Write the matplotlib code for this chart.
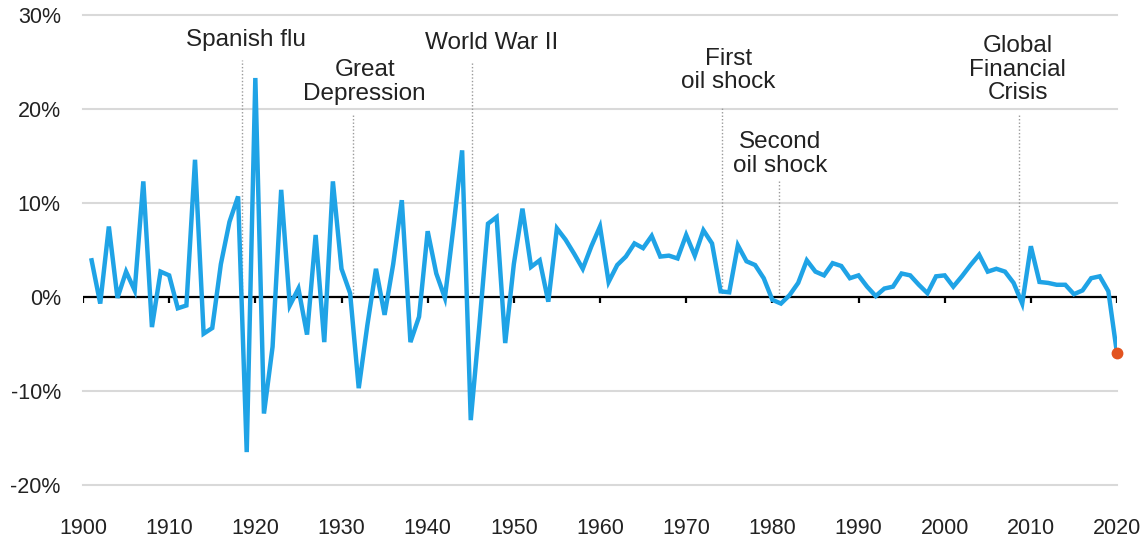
import matplotlib
matplotlib.use("Agg")
import matplotlib.pyplot as plt

plt.rcParams['font.family'] = ['Liberation Sans', 'DejaVu Sans']

# annual growth, %
years = list(range(1901, 2021))
growth = [
    3.9, -0.7, 7.5, -0.1, 2.7, 0.7, 12.3, -3.2, 2.7, 2.3,        # 1901-1910
    -1.2, -0.9, 14.6, -3.9, -3.3, 3.5, 8.0, 10.7, -16.5, 23.3,   # 1911-1920
    -12.4, -5.3, 11.4, -0.9, 0.9, -4.0, 6.6, -4.8, 12.3, 3.0,    # 1921-1930
    0.4, -9.7, -3.0, 3.0, -1.9, 3.5, 10.3, -4.8, -2.1, 7.0,      # 1931-1940
    2.5, -0.1, 7.5, 15.6, -13.1, -3.0, 7.8, 8.5, -4.9, 3.5,      # 1941-1950
    9.4, 3.2, 3.9, -0.5, 7.3, 6.1, 4.6, 3.0, 5.4, 7.5,           # 1951-1960
    1.6, 3.4, 4.3, 5.7, 5.2, 6.5, 4.3, 4.4, 4.1, 6.6,            # 1961-1970
    4.4, 7.1, 5.7, 0.6, 0.5, 5.5, 3.8, 3.4, 2.0, -0.3,           # 1971-1980
    -0.7, 0.2, 1.5, 3.9, 2.7, 2.3, 3.6, 3.3, 2.0, 2.3,           # 1981-1990
    1.1, 0.1, 0.9, 1.1, 2.5, 2.3, 1.3, 0.4, 2.2, 2.3,            # 1991-2000
    1.1, 2.2, 3.4, 4.5, 2.7, 3.0, 2.7, 1.5, -0.7, 5.4,           # 2001-2010
    1.6, 1.5, 1.3, 1.3, 0.3, 0.7, 2.0, 2.2, 0.6, -6.0,           # 2011-2020
]

x_ticks = list(range(1900, 2021, 10))
y_ticks = [-20, -10, 0, 10, 20, 30]
y_tick_labels = ["-20%", "-10%", "0%", "10%", "20%", "30%"]

events = ["Spanish flu", "Great\nDepression", "World War II",
          "First\noil shock", "Second\noil shock", "Global\nFinancial\nCrisis"]
event_years = [1918.5, 1931.3, 1945.1, 1974.2, 1980.8, 2008.6]

# label placement (x centre, y centre, top of dotted line)
label_x = [1918.9, 1932.7, 1947.4, 1974.9, 1980.9, 2008.5]
label_y = [27.3, 22.9, 27.0, 24.1, 15.2, 24.2]
line_top = [25.2, 19.4, 25.0, 20.2, 12.4, 19.4]

blue = "#1FA3E6"
text_col = "#222222"

fig = plt.figure(figsize=(11.46, 5.44), dpi=100)
ax = fig.add_axes([83 / 1146, 59 / 544, 1034 / 1146, 470 / 544])

ax.set_xlim(1900, 2020)
ax.set_ylim(-20, 30)

for v in y_ticks:
    if v != 0:
        ax.axhline(v, color="#d9d9d9", lw=1.5, zorder=0, clip_on=False)

# dotted event markers
for ex, top in zip(event_years, line_top):
    ax.vlines(ex, 0, top, colors="#9a9a9a", linestyles=(0, (1, 1.5)), lw=1.0, zorder=1)

for name, lx, ly in zip(events, label_x, label_y):
    ax.text(lx, ly, name, ha="center", va="center", fontsize=17.5,
            color=text_col, linespacing=1.1)

# zero axis with decade ticks
ax.axhline(0, color="black", lw=1.6, zorder=2)
ax.vlines(x_ticks, -0.6, 0, colors="black", lw=1.6, zorder=2)

ax.plot(years, growth, color=blue, lw=3.2, zorder=3, solid_joinstyle="miter")
ax.plot(years[-1], growth[-1], "o", color="#E2531F", ms=7.5, zorder=4, clip_on=False)

for s in ax.spines.values():
    s.set_visible(False)

ax.set_xticks(x_ticks)
ax.set_xticklabels([str(t) for t in x_ticks])
ax.set_yticks(y_ticks)
ax.set_yticklabels(y_tick_labels)
ax.tick_params(axis="x", length=0, pad=24, labelsize=15.5, labelcolor=text_col)
ax.tick_params(axis="y", length=0, pad=16, labelsize=15.5, labelcolor=text_col)

fig.savefig("out.png", dpi=100)
